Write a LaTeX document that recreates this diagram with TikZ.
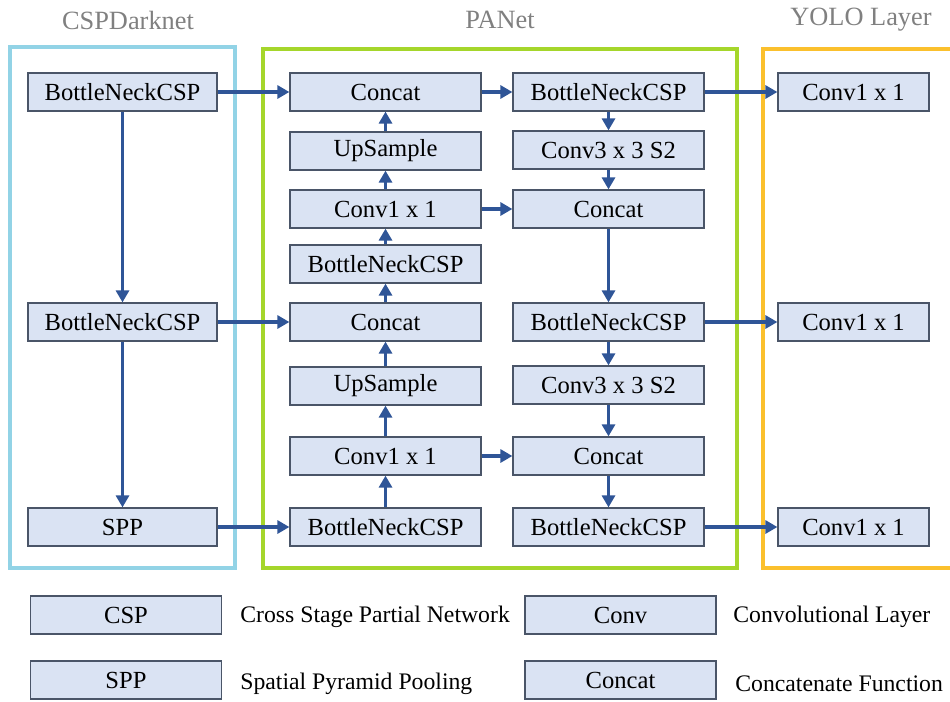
\documentclass[tikz,border=0pt]{standalone}
\usepackage{fontspec}
\setmainfont{Liberation Serif}
\usepackage{tikz}
\usetikzlibrary{arrows.meta,positioning}
\definecolor{boxfill}{HTML}{DAE3F3}
\definecolor{boxline}{HTML}{4A5568}
\definecolor{flowblue}{HTML}{2F5597}
\definecolor{darknetcyan}{HTML}{92D3E6}
\definecolor{panetgreen}{HTML}{A5D62B}
\definecolor{yologold}{HTML}{FBC02D}
\tikzset{
  layerbox/.style={rectangle,draw=boxline,fill=boxfill,line width=0.7pt,
    minimum width=3.82cm,minimum height=0.76cm,align=center,
    font=\fontsize{14}{16}\selectfont,inner sep=2pt},
  headbox/.style={layerbox,minimum width=3.02cm},
  stagetitle/.style={font=\fontsize{15}{18}\selectfont,text=black!50},
  stageframe/.style={line width=2.3pt},
  legtext/.style={anchor=west,font=\fontsize{13.5}{16}\selectfont,inner sep=0pt},
  arrow/.style={-{Triangle[length=2.4mm,width=2.6mm]},line width=2.1pt,draw=flowblue},
}

\begin{document}
\begin{tikzpicture}[x=0.2mm,y=-0.2mm]
  \useasboundingbox (0,0) rectangle (950,701);
  \clip (0,0) rectangle (950,701);

  % stage frames and titles
  \draw[stageframe,draw=darknetcyan] (10,47) rectangle (235,568);
  \draw[stageframe,draw=panetgreen] (263,49) rectangle (737,568);
  \draw[stageframe,draw=yologold] (763,49) rectangle (980,568);
  \node[stagetitle] (tdark) at (128,20) {CSPDarknet};
  \node[stagetitle] (tpan) at (500,20) {PANet};
  \node[stagetitle] (tyolo) at (861,20) {YOLO Layer};

  % backbone
  \node[layerbox, minimum width=3.78cm] (dk1) at (122.5,92) {BottleNeckCSP};
  \node[layerbox, minimum width=3.78cm] (dk2) at (122.5,322) {BottleNeckCSP};
  \node[layerbox, minimum width=3.78cm] (spp) at (122.5,527) {SPP};

  % neck, top-down path
  \node[layerbox] (cat1) at (385.5,92) {Concat};
  \node[layerbox] (up1) at (385.5,151) {UpSample};
  \node[layerbox] (cv1) at (385.5,209) {Conv1 x 1};
  \node[layerbox] (bn1) at (385.5,264) {BottleNeckCSP};
  \node[layerbox] (cat2) at (385.5,322) {Concat};
  \node[layerbox] (up2) at (385.5,386) {UpSample};
  \node[layerbox] (cv2) at (385.5,456) {Conv1 x 1};
  \node[layerbox] (bn2) at (385.5,527) {BottleNeckCSP};

  % neck, output path
  \node[layerbox] (bn3) at (608.5,92) {BottleNeckCSP};
  \node[layerbox] (ds1) at (608.5,150) {Conv3 x 3 S2};
  \node[layerbox] (cat3) at (608.5,209) {Concat};
  \node[layerbox] (bn4) at (608.5,322) {BottleNeckCSP};
  \node[layerbox] (ds2) at (608.5,385) {Conv3 x 3 S2};
  \node[layerbox] (cat4) at (608.5,456) {Concat};
  \node[layerbox] (bn5) at (608.5,527) {BottleNeckCSP};

  % heads
  \node[headbox] (hd1) at (853.5,92) {Conv1 x 1};
  \node[headbox] (hd2) at (853.5,322) {Conv1 x 1};
  \node[headbox] (hd3) at (853.5,527) {Conv1 x 1};

  \draw[arrow] (dk1) -- (dk2);
  \draw[arrow] (dk2) -- (spp);
  \draw[arrow] (dk1) -- (cat1);
  \draw[arrow] (dk2) -- (cat2);
  \draw[arrow] (spp) -- (bn2);

  \draw[arrow] (bn2) -- (cv2);
  \draw[arrow] (cv2) -- (up2);
  \draw[arrow] (up2) -- (cat2);
  \draw[arrow] (cat2) -- (bn1);
  \draw[arrow] (bn1) -- (cv1);
  \draw[arrow] (cv1) -- (up1);
  \draw[arrow] (up1) -- (cat1);

  \draw[arrow] (cat1) -- (bn3);
  \draw[arrow] (cv1) -- (cat3);
  \draw[arrow] (cv2) -- (cat4);
  \draw[arrow] (bn3) -- (ds1);
  \draw[arrow] (ds1) -- (cat3);
  \draw[arrow] (cat3) -- (bn4);
  \draw[arrow] (bn4) -- (ds2);
  \draw[arrow] (ds2) -- (cat4);
  \draw[arrow] (cat4) -- (bn5);

  \draw[arrow] (bn3) -- (hd1);
  \draw[arrow] (bn4) -- (hd2);
  \draw[arrow] (bn5) -- (hd3);

  % legend
  \node[layerbox] (kcsp) at (126,615) {CSP};
  \node[legtext] (kcspt) at (240,617) {Cross Stage Partial Network};
  \node[layerbox] (kconv) at (620.5,615) {Conv};
  \node[legtext] (kconvt) at (733,617) {Convolutional Layer};
  \node[layerbox] (kspp) at (126,680) {SPP};
  \node[legtext] (ksppt) at (240,684) {Spatial Pyramid Pooling};
  \node[layerbox] (kcat) at (620.5,680) {Concat};
  \node[legtext] (kcatt) at (735,684) {Concatenate Function};
\end{tikzpicture}
\end{document}
